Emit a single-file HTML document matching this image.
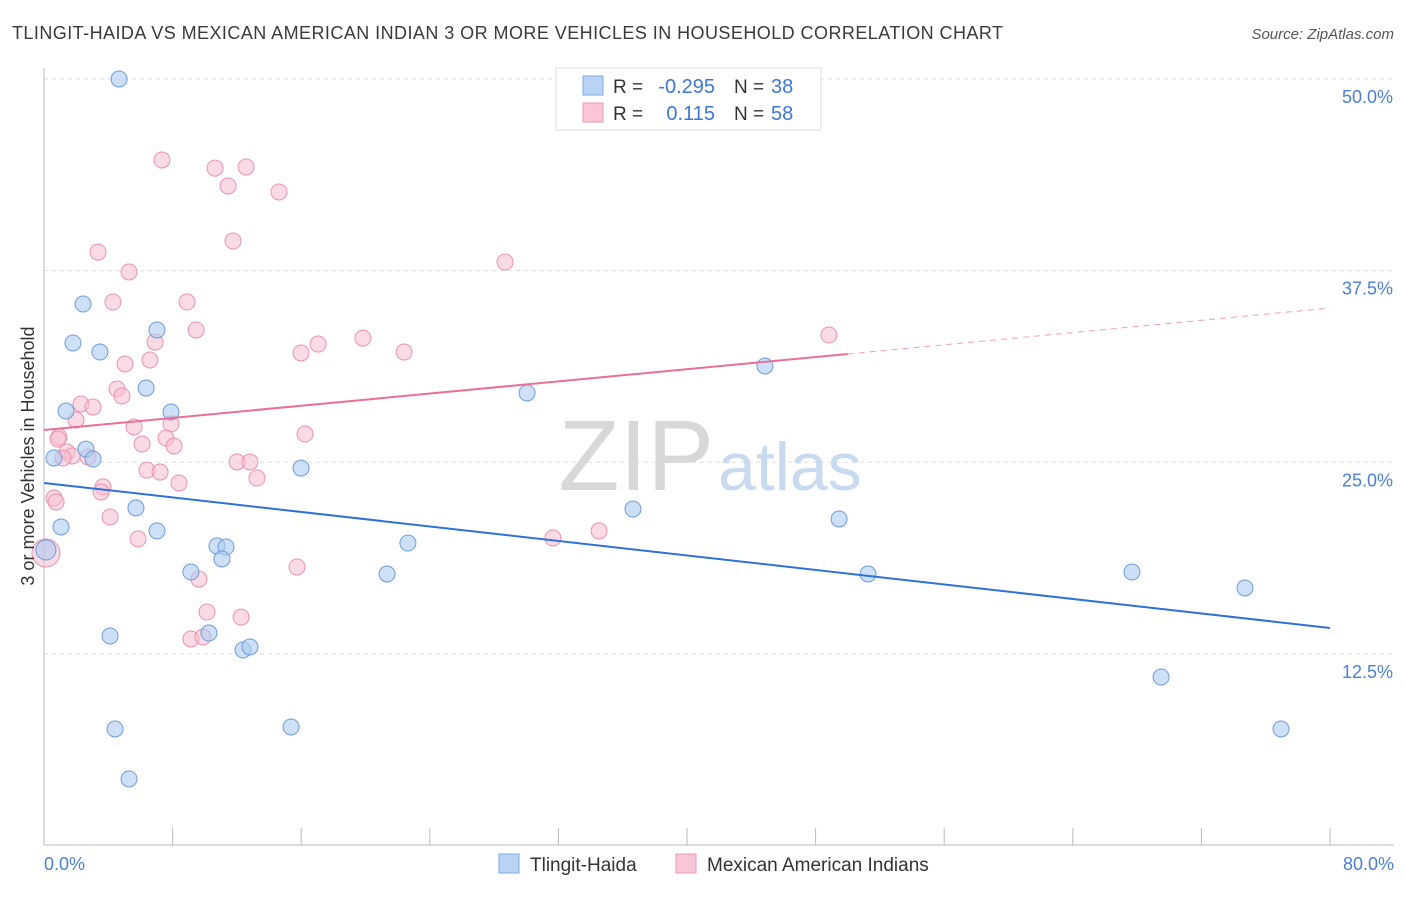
<!DOCTYPE html>
<html><head><meta charset="utf-8"><style>
body{margin:0;background:#fff;font-family:"Liberation Sans",sans-serif;}
svg text{font-family:"Liberation Sans",sans-serif;}
</style></head><body>
<svg id="chart" width="1406" height="892" viewBox="0 0 1406 892" xmlns="http://www.w3.org/2000/svg">
<text x="12" y="39" font-size="18" fill="#3a3a3a" textLength="991" lengthAdjust="spacing">TLINGIT-HAIDA VS MEXICAN AMERICAN INDIAN 3 OR MORE VEHICLES IN HOUSEHOLD CORRELATION CHART</text>
<text x="1394" y="39" font-size="15" fill="#555" font-style="italic" text-anchor="end">Source: ZipAtlas.com</text>
<g id="grid"></g>
<text x="714" y="490" font-size="100" fill="#d8d8d8" text-anchor="end" font-family="Liberation Serif">ZIP</text>
<text x="718" y="490" font-size="68" fill="#c8daf0">atlas</text>
<g id="marks"></g>
<text transform="translate(34,456) rotate(-90)" font-size="18" fill="#333" text-anchor="middle">3 or more Vehicles in Household</text>
<text x="44" y="870" font-size="18" fill="#4a7fd4">0.0%</text>
<text x="1394" y="870" font-size="18" fill="#4a7fd4" text-anchor="end">80.0%</text>
<g>
<rect x="556" y="68" width="265" height="62" fill="#fff" stroke="#ddd"/>
<rect x="583" y="76" width="20" height="19" fill="#b9d3f5" stroke="#7fa9e0"/>
<rect x="583" y="103" width="20" height="19" fill="#f8c6d5" stroke="#eb9ab4"/>
<text x="613" y="93" font-size="19" fill="#333">R =</text>
<text x="715" y="93" font-size="20" fill="#3b78d8" text-anchor="end">-0.295</text>
<text x="734" y="93" font-size="19" fill="#333">N =</text>
<text x="771" y="93" font-size="20" fill="#3b78d8">38</text>
<text x="613" y="120" font-size="19" fill="#333">R =</text>
<text x="715" y="120" font-size="20" fill="#3b78d8" text-anchor="end">0.115</text>
<text x="734" y="120" font-size="19" fill="#333">N =</text>
<text x="771" y="120" font-size="20" fill="#3b78d8">58</text>
</g>
<g>
<rect x="499" y="854" width="20" height="19" fill="#b9d3f5" stroke="#7fa9e0"/>
<text x="530" y="871" font-size="19" fill="#333">Tlingit-Haida</text>
<rect x="676" y="854" width="20" height="19" fill="#f8c6d5" stroke="#eb9ab4"/>
<text x="707" y="871" font-size="19" fill="#333">Mexican American Indians</text>
</g>
</svg>
<script>
const yTicks=[12.5,25,37.5,50];
const yTickLabels=["12.5%","25.0%","37.5%","50.0%"];
const xTicks=[0,8,16,24,32,40,48,56,64,72,80];
const blueX=[4.67,2.43,1.80,3.48,7.03,6.35,1.37,7.90,2.61,3.05,0.62,15.99,5.72,1.06,7.03,10.76,11.32,11.07,9.14,21.34,22.64,30.05,36.64,44.85,49.46,51.26,67.68,74.71,69.49,76.95,4.11,10.26,12.38,12.81,4.42,15.37,5.29,0.12];
const blueY=[50.0,35.32,32.78,32.19,33.63,29.84,28.34,28.28,25.86,25.21,25.28,24.62,22.02,20.78,20.52,19.54,19.47,18.69,17.84,17.71,19.73,29.52,21.95,31.28,21.30,17.71,17.84,16.80,10.99,7.60,13.67,13.86,12.75,12.95,7.60,7.73,4.34,19.28];
const pinkX=[7.34,10.64,12.57,11.45,14.62,11.76,3.36,5.29,28.68,4.29,8.90,9.46,6.91,6.59,5.04,17.05,15.99,19.84,22.40,48.83,4.54,4.85,2.30,3.05,1.99,5.60,7.90,0.93,7.59,6.10,8.09,16.24,1.43,1.74,2.74,1.18,12.01,12.81,6.41,7.22,8.40,13.25,3.67,3.55,0.62,0.75,4.11,5.85,31.66,34.53,15.74,9.64,10.14,12.26,9.14,9.89,0.12,0.87];
const pinkY=[44.72,44.19,44.26,43.02,42.63,39.43,38.71,37.41,38.06,35.45,35.45,33.63,32.84,31.67,31.41,32.71,32.13,33.10,32.19,33.30,29.78,29.32,28.80,28.60,27.76,27.30,27.50,26.65,26.58,26.19,26.06,26.84,25.67,25.41,25.34,25.28,25.02,25.02,24.49,24.36,23.65,23.97,23.39,23.06,22.67,22.41,21.43,20.0,20.06,20.52,18.17,17.38,15.23,14.90,13.47,13.60,19.08,26.52];
const blueTrend=[23.65,14.19];
const pinkTrend=[27.1,32.06,35.06];
const X=v=>44+v*16.075, Y=v=>79+(50-v)*15.33;
const NS="http://www.w3.org/2000/svg";
const grid=document.getElementById('grid'), marks=document.getElementById('marks');
function mk(tag,attrs,parent){const e=document.createElementNS(NS,tag);for(const k in attrs)e.setAttribute(k,attrs[k]);parent.appendChild(e);return e;}
yTicks.forEach((t,i)=>{
 const l=mk('line',{x1:44,x2:1394,y1:Y(t),y2:Y(t),stroke:'#dedede','stroke-dasharray':'4,4'},grid);
 
 
 const tx=mk('text',{x:1393,y:Y(t)+24,'font-size':18,fill:'#4a7fd4','text-anchor':'end'},grid);
 tx.textContent=yTickLabels[i];
 
 
});
const ax=mk('line',{x1:44,x2:1394,y1:845,y2:845,stroke:'#bbb'},grid);


const ay=mk('line',{x1:44,x2:44,y1:68,y2:845,stroke:'#bbb'},grid);


xTicks.forEach(t=>{
 const l=mk('line',{x1:X(t),x2:X(t),y1:828,y2:845,stroke:'#bbb'},grid);
 
 
});
pinkX.forEach((x,i)=>{
 const big=i===pinkX.length-2;
 const c=mk('circle',{cx:X(x),cy:Y(pinkY[i]),r:big?14:8,fill:'#f6bdd0','fill-opacity':0.55,stroke:'#e993ae','stroke-width':1},marks);
 
 
});
blueX.forEach((x,i)=>{
 const big=i===blueX.length-1;
 const c=mk('circle',{cx:X(x),cy:Y(blueY[i]),r:big?10:8,fill:'#aecbf2','fill-opacity':0.6,stroke:'#6e9cd8','stroke-width':1},marks);
 
 
});
const bl=mk('line',{x1:X(0),y1:Y(blueTrend[0]),x2:X(80),y2:Y(blueTrend[1]),stroke:'#2f72d6','stroke-width':2},marks);


const pl=mk('line',{x1:X(0),y1:Y(pinkTrend[0]),x2:X(50),y2:Y(pinkTrend[1]),stroke:'#e8709a','stroke-width':2},marks);


const pd=mk('line',{x1:X(50),y1:Y(pinkTrend[1]),x2:X(80),y2:Y(pinkTrend[2]),stroke:'#e8a0b8','stroke-width':1,'stroke-dasharray':'6,5'},marks);


</script>
</body></html>
